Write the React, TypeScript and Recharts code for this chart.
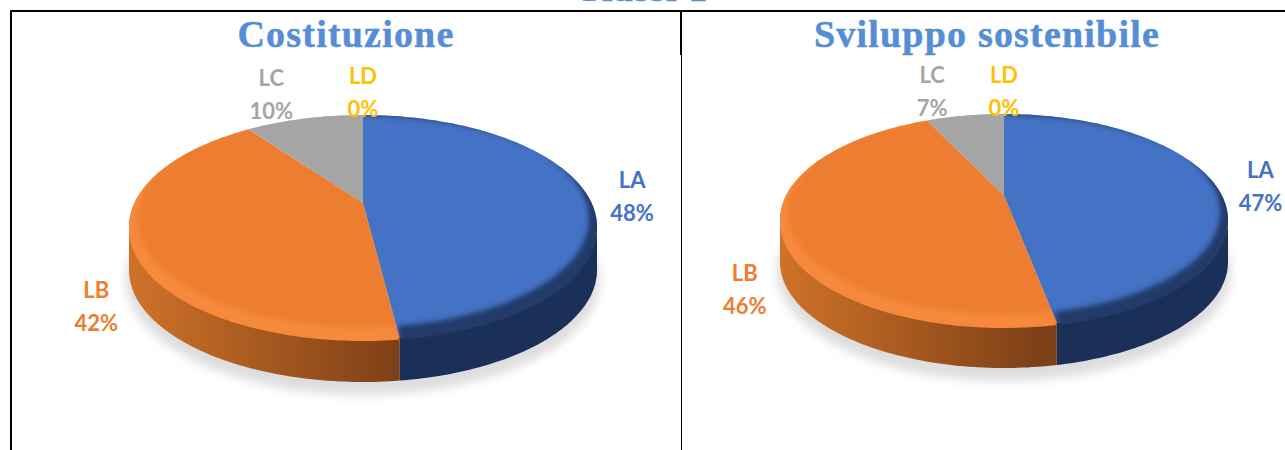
import { PieChart, Pie, Cell } from "recharts";

const categories = ["LA", "LB", "LC", "LD"];
const costituzione = [48, 42, 10, 0];
const sviluppo = [47, 46, 7, 0];
const COLORS = ["#4472C4", "#ED7D31", "#A5A5A5", "#FFC000"];
const RIM = ["#223A69", "#F6893A", "#A5A5A5", "#FFC000"];
const WALL_FROM = ["#1A2E57", "#CF7229", "#7C7C7C", "#BF9000"];
const WALL_TO = ["#1B3058", "#7D4016", "#7C7C7C", "#BF9000"];
// where each label block sits relative to its slice's outer edge
const LABEL_NUDGE = [
  [44, 0],
  [-36, 60],
  [-33, -25],
  [0, -23],
];

const toRows = (values: number[]) =>
  categories.map((name, i) => ({ name, value: values[i] }));

const RAD = Math.PI / 180;
const TITLE_COLOR = "#558ED5";

// Excel-like perspective: moves the pie centre up inside the ellipse
const project = (angle: number, cx: number, cy: number, rx: number, ry: number, tilt: number) => {
  const u = Math.cos(angle * RAD);
  const v = Math.sin(angle * RAD);
  const w = 1 + tilt * v;
  const px = (u * Math.sqrt(1 - tilt * tilt)) / w;
  const py = (v + tilt) / w;
  return { x: cx + rx * px, y: cy - ry * py, front: py <= 0.02 };
};

const arcPoints = (start: number, end: number, cx: number, cy: number, rx: number, ry: number, tilt: number) => {
  const n = Math.max(2, Math.ceil(Math.abs(end - start)));
  const out = [];
  for (let i = 0; i <= n; i++) {
    out.push(project(start + ((end - start) * i) / n, cx, cy, rx, ry, tilt));
  }
  return out;
};

const line = (pts: { x: number; y: number }[]) =>
  pts.map((p, i) => `${i ? "L" : "M"}${p.x.toFixed(1)} ${p.y.toFixed(1)}`).join(" ");

const Slice3D = (props: any) => {
  const { cx, cy, outerRadius: rx, startAngle, endAngle, ry, depth, tilt, id } = props;
  const i = categories.indexOf(props.name);
  if (Math.abs(endAngle - startAngle) < 0.01) return null;
  const arc = arcPoints(startAngle, endAngle, cx, cy, rx, ry, tilt);
  const apex = { x: cx, y: cy - ry * tilt };
  const top = `${line([apex, ...arc])} Z`;
  const front = arc.filter((p) => p.front);
  const wall = front.length
    ? `${line([...front, ...front.map((p) => ({ x: p.x, y: p.y + depth })).reverse()])} Z`
    : "";
  const inner = arc.map((p) => ({
    x: cx + (p.x - cx) * 0.965,
    y: cy + (p.y - cy) * 0.965 - 8,
  }));
  // outer edge runs past the slice, the clip trims it, so the blur stays solid at the rim
  const outer = arc.map((p) => ({
    x: cx + (p.x - cx) * 1.05,
    y: cy + (p.y - cy) * 1.05 + 6,
  }));
  const rim = `${line([...outer, ...inner.reverse()])} Z`;
  const key = `${id}-${i}`;
  return (
    <g>
      <defs>
        <linearGradient id={`wall-${key}`} gradientUnits="userSpaceOnUse" x1={cx - rx} x2={cx + rx * 0.16} y1={0} y2={0}>
          <stop offset="0" stopColor={WALL_FROM[i]} />
          <stop offset="1" stopColor={WALL_TO[i]} />
        </linearGradient>
        <clipPath id={`clip-${key}`}>
          <path d={top} />
          <path d={top} transform="translate(0,2)" />
        </clipPath>
        <filter id={`blur-${key}`} x="-10%" y="-10%" width="120%" height="120%">
          <feGaussianBlur stdDeviation="2.8" />
        </filter>
      </defs>
      {i === 0 && (
        <ellipse
          cx={cx}
          cy={cy + depth + 10}
          rx={rx + 3}
          ry={ry + 3}
          fill="#CFCFCF"
          opacity={0.7}
          style={{ filter: "blur(5px)" }}
        />
      )}
      {wall && <path d={wall} fill={`url(#wall-${key})`} />}
      <path d={top} fill={COLORS[i]} />
      <g clipPath={`url(#clip-${key})`}>
        <path d={rim} fill={RIM[i]} filter={`url(#blur-${key})`} />
      </g>
    </g>
  );
};

const renderLabel = (ry: number, tilt: number) => (props: any) => {
  const { cx, cy, outerRadius, midAngle, name, value } = props;
  const i = categories.indexOf(name);
  const p = project(midAngle, cx, cy, outerRadius, ry, tilt);
  const x = p.x + LABEL_NUDGE[i][0];
  const y = p.y + LABEL_NUDGE[i][1];
  return (
    <text
      x={x}
      y={y}
      textAnchor="middle"
      fontFamily="Lato, sans-serif"
      fontWeight={700}
      fontSize={22}
      fill={COLORS[i]}
    >
      <tspan x={x} dy={-8}>
        {name}
      </tspan>
      <tspan x={x} dy={33}>
        {value}%
      </tspan>
    </text>
  );
};

const frameLine = (left: number, top: number, width: number, height: number) => (
  <div style={{ position: "absolute", left, top, width, height, background: "#000" }} />
);

const titleStyle = {
  position: "absolute" as const,
  top: 10,
  height: 50,
  lineHeight: "50px",
  textAlign: "center" as const,
  fontFamily: "'Liberation Serif', serif",
  fontWeight: 700,
  fontSize: 38,
  letterSpacing: 1.2,
  WebkitTextStroke: "0.5px " + TITLE_COLOR,
  color: TITLE_COLOR,
  whiteSpace: "nowrap" as const,
};

const App = () => {
  return (
    <div style={{ position: "absolute", left: 0, top: 0, width: 1285, height: 450, overflow: "hidden", background: "#fff" }}>
      <div style={{ ...titleStyle, top: -37, left: 541, width: 200 }}>Classi 1</div>
      {frameLine(10, 10, 1275, 2)}
      {frameLine(10, 10, 2, 440)}
      {frameLine(680, 10, 2, 45)}
      {frameLine(681, 55, 1, 395)}
      <div style={{ ...titleStyle, left: 146, width: 400, top: 9 }}>Costituzione</div>
      <div style={{ ...titleStyle, left: 787, width: 400, top: 9 }}>Sviluppo sostenibile</div>
      <div style={{ position: "absolute", left: 0, top: 0 }}>
        <PieChart width={1285} height={450} margin={{ top: 0, right: 0, bottom: 0, left: 0 }}>
          <Pie
            data={toRows(costituzione)}
            dataKey="value"
            nameKey="name"
            cx={363}
            cy={227}
            outerRadius={234}
            startAngle={90}
            endAngle={-270}
            stroke="none"
            isAnimationActive={false}
            labelLine={false}
            label={renderLabel(112, 0.214)}
            shape={(p: any) => <Slice3D {...p} ry={112} depth={43} tilt={0.214} id="cost" />}
          >
            {categories.map((c, i) => (
              <Cell key={c} fill={COLORS[i]} />
            ))}
          </Pie>
          <Pie
            data={toRows(sviluppo)}
            dataKey="value"
            nameKey="name"
            cx={1004}
            cy={220}
            outerRadius={224}
            startAngle={90}
            endAngle={-270}
            stroke="none"
            isAnimationActive={false}
            labelLine={false}
            label={renderLabel(106, 0.23)}
            shape={(p: any) => <Slice3D {...p} ry={106} depth={42} tilt={0.23} id="svil" />}
          >
            {categories.map((c, i) => (
              <Cell key={c} fill={COLORS[i]} />
            ))}
          </Pie>
        </PieChart>
      </div>
    </div>
  );
};

export default App;
